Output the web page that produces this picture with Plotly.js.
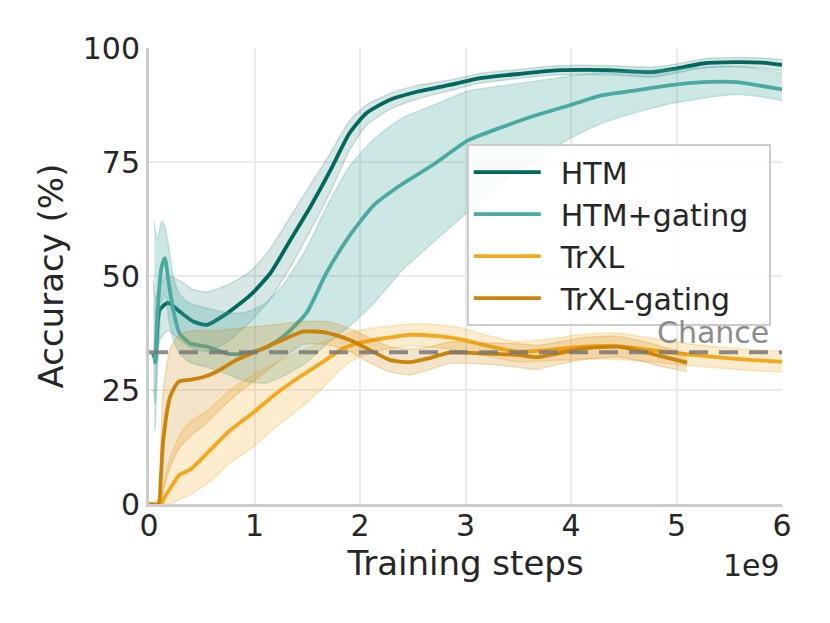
<!DOCTYPE html>
<html>
<head>
<meta charset="utf-8">
<script src="https://cdn.plot.ly/plotly-3.0.1.min.js"></script>
<style>
html,body{margin:0;padding:0;background:#fff;}
#chart{width:830px;height:623px;}
</style>
</head>
<body>
<div id="chart"></div>
<script>
// ---- Data (x in units of 1e9 training steps, y in % accuracy) ----
const seriesNames = ["HTM", "HTM+gating", "TrXL", "TrXL-gating"];

const htmX     = [0.04, 0.06, 0.10, 0.18, 0.29, 0.42, 0.55, 0.74, 0.96, 1.15, 1.34, 1.53, 1.72, 1.90, 2.06, 2.28, 2.54, 2.85, 3.14, 3.50, 3.80, 4.10, 4.40, 4.77, 5.00, 5.25, 5.56, 5.80, 6.00];
const htmMean  = [33.0, 31.6, 42.5, 44.1, 42.2, 40.0, 39.3, 41.8, 45.8, 50.6, 57.9, 65.2, 73.2, 81.3, 85.7, 88.6, 90.4, 91.9, 93.4, 94.3, 95.0, 95.2, 95.1, 94.7, 95.5, 96.6, 96.9, 96.8, 96.3];
const htmUpper = [49.0, 45.0, 48.0, 50.0, 49.0, 47.0, 46.5, 48.0, 51.0, 56.0, 63.0, 70.0, 77.0, 84.0, 87.5, 90.0, 91.8, 93.0, 94.4, 95.3, 96.0, 96.2, 96.1, 95.8, 96.5, 97.6, 97.9, 97.8, 97.4];
const htmLower = [25.0, 22.0, 36.0, 38.0, 36.0, 34.0, 33.5, 35.5, 40.0, 45.0, 52.0, 60.0, 68.5, 77.5, 83.0, 86.5, 88.8, 90.6, 92.3, 93.3, 94.0, 94.2, 94.1, 93.6, 94.5, 95.6, 95.9, 95.6, 95.0];

const htmgX     = [0.05, 0.06, 0.08, 0.12, 0.15, 0.19, 0.23, 0.29, 0.39, 0.55, 0.74, 0.90, 1.10, 1.27, 1.49, 1.68, 1.90, 2.13, 2.39, 2.70, 3.02, 3.34, 3.66, 3.98, 4.29, 4.61, 4.93, 5.25, 5.57, 5.80, 6.00];
const htmgMean  = [33.0, 31.0, 42.0, 52.0, 53.9, 48.0, 42.5, 37.4, 35.2, 34.5, 33.0, 33.0, 34.2, 36.7, 41.8, 50.6, 58.8, 65.5, 70.0, 74.5, 79.7, 82.6, 85.2, 87.4, 89.6, 90.7, 91.8, 92.5, 92.5, 91.7, 90.9];
const htmgUpper = [62.0, 60.0, 58.0, 62.0, 61.0, 56.0, 50.0, 46.0, 44.0, 43.0, 42.0, 42.0, 44.0, 48.0, 56.0, 65.0, 74.0, 80.0, 84.5, 87.5, 90.5, 91.7, 92.7, 93.8, 94.6, 95.0, 95.3, 95.8, 96.0, 95.3, 94.5];
const htmgLower = [16.0, 17.0, 30.0, 44.0, 46.0, 40.0, 36.0, 33.0, 31.0, 30.0, 28.5, 27.0, 26.5, 28.0, 31.0, 35.0, 39.0, 44.0, 51.0, 57.5, 64.0, 70.5, 75.5, 80.0, 83.5, 85.8, 87.7, 89.0, 89.8, 89.3, 88.5];

const trxlX     = [0.12, 0.135, 0.20, 0.29, 0.39, 0.58, 0.77, 0.96, 1.21, 1.43, 1.65, 1.84, 1.97, 2.22, 2.47, 2.73, 2.98, 3.17, 3.49, 3.80, 4.12, 4.43, 4.75, 5.06, 5.38, 5.70, 6.00];
const trxlMean  = [0.0, 0.9, 3.4, 6.4, 7.5, 11.8, 16.2, 19.5, 24.3, 27.9, 31.2, 34.1, 35.2, 36.3, 37.1, 36.8, 36.0, 34.9, 33.4, 33.8, 34.5, 34.6, 33.8, 32.9, 32.2, 31.6, 31.2];
const trxlUpper = [0.0, 4.0, 10.0, 15.0, 18.0, 21.0, 25.0, 28.0, 31.0, 33.5, 35.5, 37.0, 38.0, 38.8, 39.5, 39.3, 38.5, 37.2, 35.6, 36.2, 37.2, 37.5, 36.4, 35.3, 34.5, 33.9, 33.5];
const trxlLower = [0.0, 0.0, 0.0, 1.0, 2.0, 5.0, 9.0, 12.0, 17.0, 21.0, 25.5, 30.0, 32.0, 33.8, 34.7, 34.3, 33.5, 32.6, 31.2, 31.4, 31.8, 31.7, 31.2, 30.5, 29.9, 29.3, 28.9];

const trxlgX     = [0.00, 0.09, 0.11, 0.135, 0.20, 0.28, 0.40, 0.51, 0.64, 0.83, 1.05, 1.27, 1.46, 1.68, 1.90, 2.09, 2.28, 2.47, 2.66, 2.85, 3.17, 3.49, 3.67, 3.80, 4.12, 4.43, 4.62, 4.87, 5.10];
const trxlgMean  = [0.0, 0.0, 5.0, 14.0, 23.5, 26.8, 27.3, 27.8, 29.0, 31.6, 33.8, 36.0, 37.8, 37.6, 36.0, 33.8, 31.6, 31.1, 32.0, 33.2, 33.0, 32.7, 32.2, 32.7, 34.1, 34.5, 33.8, 32.3, 31.0];
const trxlgUpper = [0.0, 1.0, 12.0, 25.0, 34.0, 37.0, 38.0, 38.0, 38.0, 38.5, 39.0, 39.5, 40.0, 40.0, 38.5, 36.5, 34.5, 34.0, 34.5, 35.5, 35.3, 35.2, 34.8, 35.2, 36.5, 36.8, 36.0, 34.5, 33.0];
const trxlgLower = [0.0, 0.0, 0.0, 3.0, 8.0, 12.0, 15.0, 17.0, 20.0, 24.0, 28.0, 32.0, 35.0, 35.0, 33.5, 31.0, 29.0, 28.3, 29.5, 30.8, 30.7, 30.0, 29.5, 30.2, 31.7, 32.2, 31.6, 30.1, 29.0];

const chanceX = [0, 6];
const chanceY = [33.3, 33.3];

const xTickVals = [0, 1, 2, 3, 4, 5, 6];
const xTickText = ["0", "1", "2", "3", "4", "5", "6"];
const yTickVals = [0, 25, 50, 75, 100];
const yTickText = ["0", "25", "50", "75", "100"];

// ---- Styles ----
const colors = ["rgb(0,104,92)", "rgb(74,170,160)", "rgb(246,168,28)", "rgb(203,131,10)"];
const bandFill = ["rgba(0,104,92,0.16)", "rgba(74,170,160,0.28)", "rgba(246,168,28,0.22)", "rgba(203,131,10,0.22)"];
const bandEdge = ["rgba(0,104,92,0.18)", "rgba(74,170,160,0.25)", "rgba(246,168,28,0.25)", "rgba(203,131,10,0.22)"];

const series = [
  {x: htmX, m: htmMean, u: htmUpper, l: htmLower},
  {x: htmgX, m: htmgMean, u: htmgUpper, l: htmgLower},
  {x: trxlX, m: trxlMean, u: trxlUpper, l: trxlLower},
  {x: trxlgX, m: trxlgMean, u: trxlgUpper, l: trxlgLower}
];

const traces = [];
series.forEach((s, i) => {
  traces.push({x: s.x, y: s.l, type: "scatter", mode: "lines", showlegend: false, hoverinfo: "skip",
    line: {color: bandEdge[i], width: 1.5, shape: "spline", smoothing: 0.6}});
  traces.push({x: s.x, y: s.u, type: "scatter", mode: "lines", showlegend: false, hoverinfo: "skip",
    fill: "tonexty", fillcolor: bandFill[i],
    line: {color: bandEdge[i], width: 1.5, shape: "spline", smoothing: 0.6}});
  traces.push({x: s.x, y: s.m, type: "scatter", mode: "lines", name: "\u2002" + seriesNames[i] + "\u2002",
    line: {color: colors[i], width: 3.8, shape: "spline", smoothing: 0.6}});
});
traces.push({x: chanceX, y: chanceY, type: "scatter", mode: "lines", showlegend: false, hoverinfo: "skip",
  line: {color: "rgba(120,120,120,0.85)", width: 4, dash: "19px,11px"}});

const font = "DejaVu Sans";
const layout = {
  width: 830, height: 623,
  margin: {l: 149, r: 48, t: 48, b: 119},
  paper_bgcolor: "#ffffff", plot_bgcolor: "#ffffff",
  font: {family: font, color: "#262626", size: 30},
  showlegend: true,
  legend: {
    x: 0.502, y: 0.789, xanchor: "left", yanchor: "top", traceorder: "normal",
    bgcolor: "rgba(255,255,255,0.85)", bordercolor: "#cccccc", borderwidth: 2,
    font: {family: font, size: 30, color: "#262626"},
    itemwidth: 67, tracegroupgap: 0
  },
  xaxis: {
    range: [0, 6], tickvals: xTickVals, ticktext: xTickText,
    showgrid: true, gridcolor: "#ebebeb", gridwidth: 2,
    zeroline: false, showline: true, linecolor: "#cccccc", linewidth: 3,
    ticks: "", tickfont: {family: font, size: 30, color: "#262626"},
    ticklabelstandoff: -7,
    title: {text: "Training steps", font: {family: font, size: 34, color: "#262626"}, standoff: 10}
  },
  yaxis: {
    range: [0, 100], tickvals: yTickVals, ticktext: yTickText,
    showgrid: true, gridcolor: "#ebebeb", gridwidth: 2,
    zeroline: false, showline: true, linecolor: "#cccccc", linewidth: 3,
    ticks: "", tickfont: {family: font, size: 30, color: "#262626"},
    ticklabelstandoff: 0,
    title: {text: "Accuracy (%)", font: {family: font, size: 34, color: "#262626"}, standoff: 9}
  },
  annotations: [
    {text: "1e9", xref: "paper", yref: "paper", x: 1.0, y: -0.134, xanchor: "right", yanchor: "middle",
     showarrow: false, font: {family: font, size: 30, color: "#262626"}},
    {text: "Chance", xref: "x", yref: "y", x: 5.9, y: 33.3, xanchor: "right", yanchor: "bottom",
     showarrow: false, font: {family: font, size: 30, color: "#8c8c8c"}}
  ]
};

Plotly.newPlot("chart", traces, layout, {staticPlot: true, displayModeBar: false});
</script>
</body>
</html>
